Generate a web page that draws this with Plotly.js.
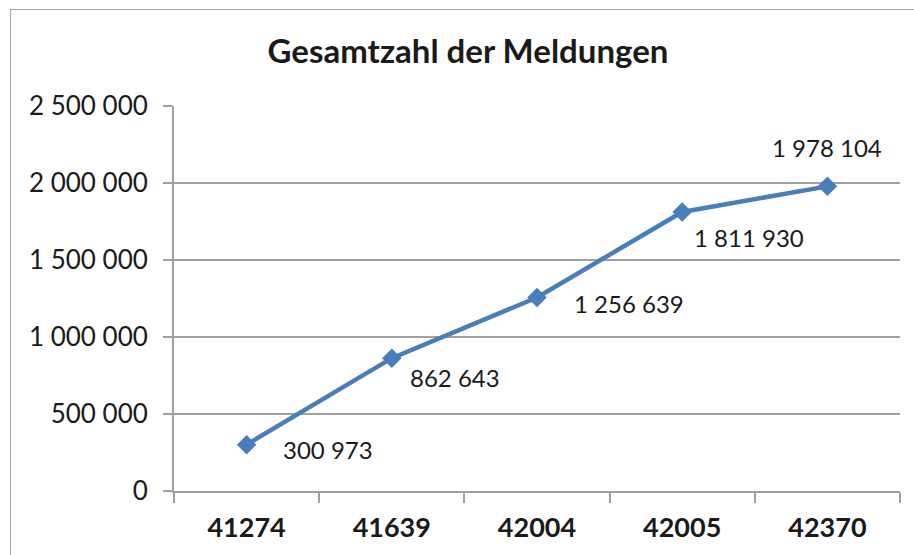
<!DOCTYPE html>
<html>
<head>
<meta charset="utf-8">
<script src="https://cdn.plot.ly/plotly-3.0.1.min.js"></script>
<style>
  body { margin: 0; background: #ffffff; }
  #frame { position: absolute; left: 10px; top: 9px; width: 1000px; height: 1000px; border: 1px solid #a6a6a6; }
  #chart { position: absolute; left: 0; top: 0; width: 914px; height: 555px; }
</style>
</head>
<body>
<div id="frame"></div>
<div id="chart"></div>
<script>
// data
const categories = ["41274", "41639", "42004", "42005", "42370"];
const meldungen = [300973, 862643, 1256639, 1811930, 1978104];
const labelTexts = ["300 973", "862 643", "1 256 639", "1 811 930", "1 978 104"];

// label offsets (px) so labels sit like in the original
const labelShiftX = [34, 16, 35, 10, 0];
const labelShiftY = [-5, -19, -6, -26, 39];
const labelAnchor = ["left", "left", "left", "left", "center"];

var trace = {
    x: categories,
    y: meldungen,
    type: 'scatter',
    mode: 'lines+markers',
    line: { color: '#4a7ebb', width: 4.5 },
    marker: { symbol: 'diamond', size: 15, color: '#4a7ebb' },
    hoverinfo: 'none'
};

var annotations = [];
for (let i = 0; i < categories.length; i++) {
    // category axis: annotation x given as category index
    annotations.push({
        x: i,
        y: meldungen[i],
        text: labelTexts[i],
        showarrow: false,
        xanchor: labelAnchor[i],
        yanchor: 'middle',
        xshift: labelShiftX[i],
        yshift: labelShiftY[i],
        font: { family: 'Lato, sans-serif', size: 24, color: '#1a1a1a' }
    });
}

var layout = {
    width: 914,
    height: 555,
    margin: { l: 174, r: 14, t: 106, b: 64 },
    paper_bgcolor: 'rgba(0,0,0,0)',
    plot_bgcolor: 'rgba(0,0,0,0)',
    separators: ', ',
    showlegend: false,
    title: {
        text: '<b>Gesamtzahl der Meldungen</b>',
        font: { family: 'Lato, sans-serif', size: 33, color: '#1a1a1a' },
        xref: 'container',
        yref: 'container',
        x: 468 / 914,
        xanchor: 'center',
        y: 1 - 51 / 555,
        yanchor: 'middle'
    },
    xaxis: {
        type: 'category',
        categoryorder: 'array',
        categoryarray: categories,
        range: [-0.5, categories.length - 0.5],
        tickson: 'boundaries',
        ticks: 'outside',
        ticklen: 10,
        tickcolor: '#a0a0a0',
        tickwidth: 2,
        showline: true,
        linecolor: '#a0a0a0',
        linewidth: 2,
        showgrid: false,
        tickangle: 0,
        ticklabelstandoff: 12,
        tickfont: { family: 'Lato, sans-serif', size: 27, color: '#1a1a1a', weight: 'bold' },
        fixedrange: true
    },
    yaxis: {
        range: [0, 2500000],
        dtick: 500000,
        tickformat: ',d',
        ticks: 'outside',
        ticklen: 9,
        tickcolor: '#a0a0a0',
        tickwidth: 2,
        showline: true,
        linecolor: '#a0a0a0',
        linewidth: 2,
        showgrid: true,
        gridcolor: '#a0a0a0',
        gridwidth: 2,
        zeroline: false,
        ticklabelstandoff: 10,
        tickfont: { family: 'Lato, sans-serif', size: 26, color: '#1a1a1a' },
        fixedrange: true
    },
    annotations: annotations
};

Plotly.newPlot('chart', [trace], layout, { displayModeBar: false, staticPlot: true });
</script>
</body>
</html>
